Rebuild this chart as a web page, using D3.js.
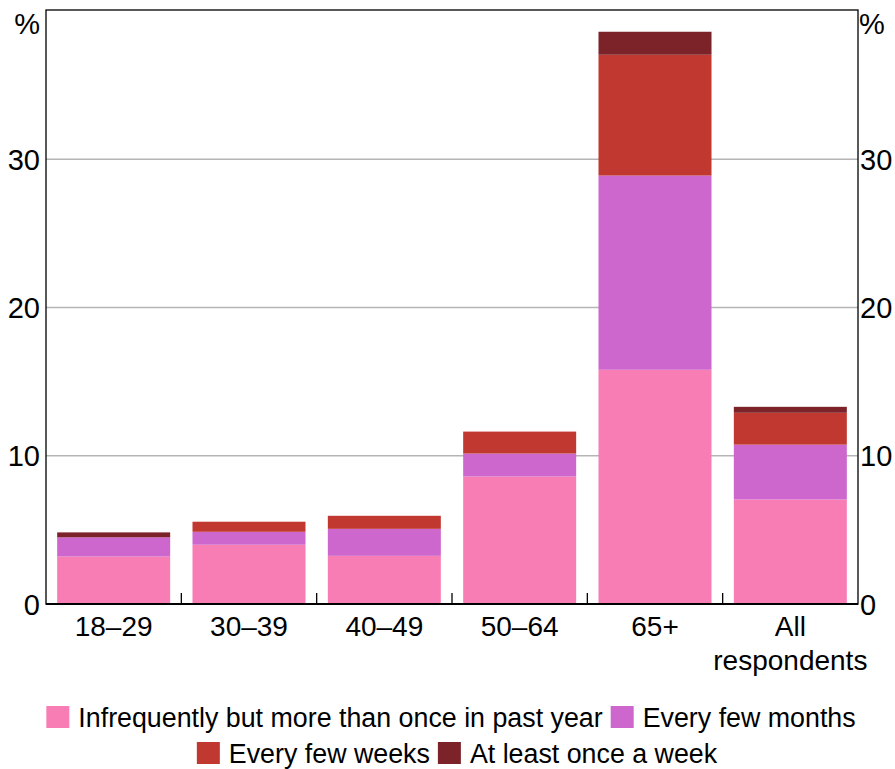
<!DOCTYPE html>
<html><head><meta charset="utf-8">
<script src="https://cdn.jsdelivr.net/npm/d3@7"></script>
<style>body{margin:0;background:#fff}svg{display:block}text{font-family:Arial,"Liberation Sans",sans-serif;fill:#000}</style>
</head><body><svg id="c" width="895" height="769"></svg>
<script>
const categories = ["18–29","30–39","40–49","50–64","65+","All respondents"];
const infrequent = [3.2, 4.0, 3.25, 8.6, 15.8, 7.05];
const fewMonths  = [1.3, 0.87, 1.82, 1.55, 13.1, 3.7];
const fewWeeks   = [0.0, 0.68, 0.88, 1.48, 8.15, 2.15];
const weekly     = [0.33, 0.0, 0.0, 0.0, 1.55, 0.4];
const seriesNames = ["Infrequently but more than once in past year","Every few months","Every few weeks","At least once a week"];
const colors = ["#f97db5","#cd66cd","#c13830","#7b2328"];
const yTicks = [0,10,20,30];

const svg = d3.select("#c");
const m = {l:46, r:858, t:10, b:604};
const x = d3.scaleBand().domain(categories).range([m.l,m.r]).paddingInner(0.165).paddingOuter(0.0825);
const y = d3.scaleLinear().domain([0,40]).range([m.b,11]);

// gridlines
svg.append("g").selectAll("line").data(yTicks.filter(d=>d>0)).join("line")
  .attr("x1",m.l).attr("x2",m.r).attr("y1",d=>y(d)).attr("y2",d=>y(d))
  .attr("stroke","#b5b5b5").attr("stroke-width",1.3);

const table = categories.map((c,i)=>({cat:c, s0:infrequent[i], s1:fewMonths[i], s2:fewWeeks[i], s3:weekly[i]}));
const stack = d3.stack().keys(["s0","s1","s2","s3"])(table);
svg.append("g").selectAll("g").data(stack).join("g").attr("fill",(d,i)=>colors[i])
  .selectAll("rect").data(d=>d).join("rect")
  .attr("x",d=>x(d.data.cat)).attr("width",x.bandwidth())
  .attr("y",d=>y(d[1])).attr("height",d=>y(d[0])-y(d[1]));

// frame
svg.append("rect").attr("x",m.l).attr("y",m.t).attr("width",m.r-m.l).attr("height",m.b-m.t)
  .attr("fill","none").attr("stroke","#000").attr("stroke-width",1.3);
svg.append("line").attr("x1",m.l).attr("x2",m.r).attr("y1",m.b).attr("y2",m.b).attr("stroke","#000").attr("stroke-width",2);

// category ticks
const step = x.step();
const bounds = categories.slice(1).map(c=>x(c)-x.paddingInner()*step/2);
svg.append("g").selectAll("line").data(bounds).join("line")
  .attr("x1",d=>d).attr("x2",d=>d).attr("y1",m.b).attr("y2",m.b-11)
  .attr("stroke","#000").attr("stroke-width",1.3);

// y labels
const fs = 29;
svg.append("g").selectAll("text").data(yTicks).join("text")
  .attr("x",m.l-6).attr("y",d=>y(d)+10.5).attr("text-anchor","end").attr("font-size",fs).text(d=>d);
svg.append("g").selectAll("text").data(yTicks).join("text")
  .attr("x",m.r+2).attr("y",d=>y(d)+10.5).attr("text-anchor","start").attr("font-size",fs).text(d=>d);
svg.append("text").attr("x",m.l-6).attr("y",34).attr("text-anchor","end").attr("font-size",fs).text("%");
svg.append("text").attr("x",m.r+1).attr("y",34).attr("text-anchor","start").attr("font-size",fs).text("%");

// x labels
const xl = svg.append("g").selectAll("text").data(categories).join("text")
  .attr("x",d=>x(d)+x.bandwidth()/2).attr("y",636).attr("text-anchor","middle").attr("font-size",28);
xl.each(function(d){
  const words = d==="All respondents" ? ["All","respondents"] : [d];
  const t = d3.select(this);
  words.forEach((w,i)=>t.append("tspan").attr("x",x(d)+x.bandwidth()/2).attr("dy",i?34:0).text(w));
});

// legend
const rows = [[0,1],[2,3]];
const rowY = [706, 742];
const rowCenter = [451, 457];
rows.forEach((r,ri)=>{
  const g = svg.append("g");
  let cx = 0;
  r.forEach(i=>{
    g.append("rect").attr("x",cx).attr("y",0).attr("width",23).attr("height",22).attr("fill",colors[i]);
    const t = g.append("text").attr("x",cx+32).attr("y",21).attr("font-size",26.8).text(seriesNames[i]);
    cx += 32 + t.node().getComputedTextLength() + 8;
  });
  const w = cx - 8;
  g.attr("transform",`translate(${rowCenter[ri]-w/2},${rowY[ri]})`);
});
</script></body></html>
